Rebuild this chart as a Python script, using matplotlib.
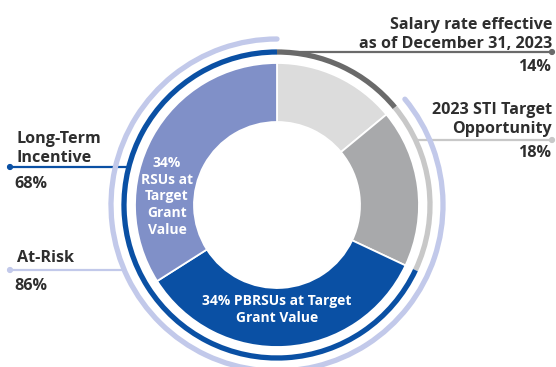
import numpy as np
import matplotlib.pyplot as plt
from matplotlib.patches import Arc, Circle

# pay mix, clockwise from 12 o'clock
segments = ['Salary', 'STI', 'PBRSU', 'RSU']
values = [14, 18, 34, 34]
seg_colors = ['#dcdcdc', '#a8a9ab', '#0a50a4', '#8090c8']

# outer group arcs: (name, first segment, last segment)
groups = [('salary', 0, 0), ('sti', 1, 1), ('lti', 2, 3), ('risk', 1, 3)]
group_colors = {'salary': '#6a6a6a', 'sti': '#c8c8c8', 'lti': '#0a50a4', 'risk': '#c2c9ea'}
group_radius = {'salary': 153, 'sti': 153, 'lti': 153, 'risk': 166}

callout_text = {
    'salary': ['Salary rate effective', 'as of December 31, 2023'],
    'sti': ['2023 STI Target', 'Opportunity'],
    'lti': ['Long-Term', 'Incentive'],
    'risk': ['At-Risk'],
}
callout_pct = {'salary': '14%', 'sti': '18%', 'lti': '68%', 'risk': '86%'}
rsu_label = ['34%', 'RSUs at', 'Target', 'Grant', 'Value']
pbrsu_label = ['34% PBRSUs at Target', 'Grant Value']

plt.rcParams['font.family'] = ['Open Sans', 'DejaVu Sans']
W, H = 556, 367
fig = plt.figure(figsize=(W / 100, H / 100), dpi=100)
ax = fig.add_axes([0, 0, 1, 1])

cx, cy = 277, H - 205
R, hole = 142, 83
ax.pie(values, colors=seg_colors, startangle=90, counterclock=False,
       center=(cx, cy), radius=R,
       wedgeprops=dict(width=R - hole, edgecolor='white', linewidth=1.3))
ax.set_xlim(0, W)
ax.set_ylim(0, H)
ax.set_aspect('equal')
ax.axis('off')

cum = np.concatenate([[0], np.cumsum(values)]) / sum(values)
for name, a, b in groups:
    t1 = 90 - 360 * cum[b + 1]
    t2 = 90 - 360 * cum[a]
    r = group_radius[name]
    arc = Arc((cx, cy), 2 * r, 2 * r, theta1=t1, theta2=t2,
              color=group_colors[name], lw=3.8,
              capstyle='round' if name == 'risk' else 'butt',
              zorder=3 if name != 'risk' else 2)
    ax.add_patch(arc)

txt = '#2e2e2e'
fs = 11.6


def leader(y_img, r, side, color, lw=1.6):
    y = H - y_img
    dx = np.sqrt(max(r ** 2 - (y - cy) ** 2, 0))
    if side == 'right':
        x0, x1 = cx + dx, 552
    else:
        x0, x1 = cx - dx, 10
    ax.plot([x0, x1], [y, y], color=color, lw=lw, solid_capstyle='butt', zorder=1)
    ax.add_patch(Circle((x1, y), 2.4, color=color, zorder=4))


def lines(x, baselines, texts, ha, size=fs, color=txt):
    for yb, s in zip(baselines, texts):
        ax.text(x, H - yb, s, ha=ha, va='baseline', fontsize=size,
                fontweight='bold', color=color)


# right side callouts
leader(52, group_radius['salary'], 'right', group_colors['salary'])
lines(552, [29, 48], callout_text['salary'], 'right')
lines(551, [71], [callout_pct['salary']], 'right')

leader(140, group_radius['sti'], 'right', group_colors['sti'])
lines(552, [114, 133], callout_text['sti'], 'right')
lines(551, [157], [callout_pct['sti']], 'right')

# left side callouts
leader(167, group_radius['lti'], 'left', group_colors['lti'])
lines(17, [143, 162], callout_text['lti'], 'left')
lines(14, [188], [callout_pct['lti']], 'left')

leader(270, group_radius['risk'], 'left', group_colors['risk'])
lines(17, [262], callout_text['risk'], 'left')
lines(14, [290], [callout_pct['risk']], 'left')

# labels inside the ring
lines(167, [167, 184, 200, 217, 234], rsu_label, 'center', size=10, color='white')
lines(277, [305, 322], pbrsu_label, 'center', size=10, color='white')

fig.savefig('out.png', dpi=100)
